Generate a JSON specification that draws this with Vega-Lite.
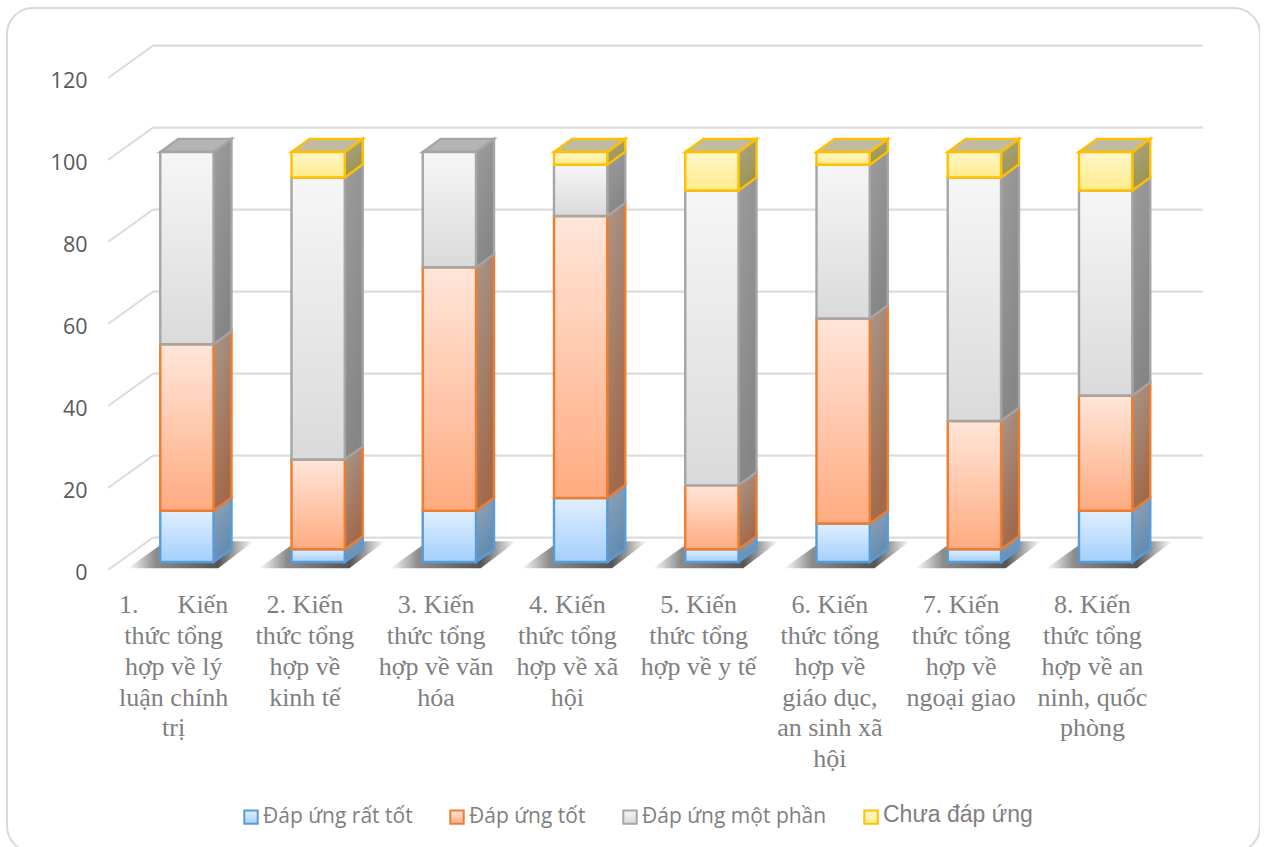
{
  "$schema": "https://vega.github.io/schema/vega-lite/v6.json",
  "width": 1253,
  "height": 844,
  "autosize": "none",
  "padding": {"left": 7, "top": 8, "right": 0, "bottom": 0},
  "background": "white",
  "view": {"stroke": "#d9d9d9", "strokeWidth": 2, "cornerRadius": 26},
  "resolve": {"axis": {"y": "independent"}, "legend": {"stroke": "independent"}},
  "datasets": {
    "levels": [{"level": 0}, {"level": 20}, {"level": 40}, {"level": 60}, {"level": 80}, {"level": 100}, {"level": 120}],
    "categories": [
      {"cat": 1, "label": "1.\u00a0\u00a0\u00a0\u00a0\u00a0\u00a0Kiến\nthức tổng\nhợp về lý\nluận chính\ntrị"},
      {"cat": 2, "label": "2. Kiến\nthức tổng\nhợp về\nkinh tế"},
      {"cat": 3, "label": "3. Kiến\nthức tổng\nhợp về văn\nhóa"},
      {"cat": 4, "label": "4. Kiến\nthức tổng\nhợp về xã\nhội"},
      {"cat": 5, "label": "5. Kiến\nthức tổng\nhợp về y tế"},
      {"cat": 6, "label": "6. Kiến\nthức tổng\nhợp về\ngiáo dục,\nan sinh xã\nhội"},
      {"cat": 7, "label": "7. Kiến\nthức tổng\nhợp về\nngoại giao"},
      {"cat": 8, "label": "8. Kiến\nthức tổng\nhợp về an\nninh, quốc\nphòng"}
    ],
    "responses": [
      {"cat": 1, "series": "Đáp ứng rất tốt", "value": 12.5},
      {"cat": 1, "series": "Đáp ứng tốt", "value": 40.6},
      {"cat": 1, "series": "Đáp ứng một phần", "value": 46.9},
      {"cat": 2, "series": "Đáp ứng rất tốt", "value": 3.1},
      {"cat": 2, "series": "Đáp ứng tốt", "value": 21.9},
      {"cat": 2, "series": "Đáp ứng một phần", "value": 68.8},
      {"cat": 2, "series": "Chưa đáp ứng", "value": 6.2},
      {"cat": 3, "series": "Đáp ứng rất tốt", "value": 12.5},
      {"cat": 3, "series": "Đáp ứng tốt", "value": 59.4},
      {"cat": 3, "series": "Đáp ứng một phần", "value": 28.1},
      {"cat": 4, "series": "Đáp ứng rất tốt", "value": 15.6},
      {"cat": 4, "series": "Đáp ứng tốt", "value": 68.8},
      {"cat": 4, "series": "Đáp ứng một phần", "value": 12.5},
      {"cat": 4, "series": "Chưa đáp ứng", "value": 3.1},
      {"cat": 5, "series": "Đáp ứng rất tốt", "value": 3.1},
      {"cat": 5, "series": "Đáp ứng tốt", "value": 15.6},
      {"cat": 5, "series": "Đáp ứng một phần", "value": 71.9},
      {"cat": 5, "series": "Chưa đáp ứng", "value": 9.4},
      {"cat": 6, "series": "Đáp ứng rất tốt", "value": 9.4},
      {"cat": 6, "series": "Đáp ứng tốt", "value": 50},
      {"cat": 6, "series": "Đáp ứng một phần", "value": 37.5},
      {"cat": 6, "series": "Chưa đáp ứng", "value": 3.1},
      {"cat": 7, "series": "Đáp ứng rất tốt", "value": 3.1},
      {"cat": 7, "series": "Đáp ứng tốt", "value": 31.3},
      {"cat": 7, "series": "Đáp ứng một phần", "value": 59.4},
      {"cat": 7, "series": "Chưa đáp ứng", "value": 6.2},
      {"cat": 8, "series": "Đáp ứng rất tốt", "value": 12.5},
      {"cat": 8, "series": "Đáp ứng tốt", "value": 28.1},
      {"cat": 8, "series": "Đáp ứng một phần", "value": 50},
      {"cat": 8, "series": "Chưa đáp ứng", "value": 9.4}
    ]
  },
  "layer": [
    {
      "data": {"name": "levels"},
      "transform": [{"calculate": "datum.level + 7.9", "as": "back"}],
      "mark": {"type": "rule", "stroke": "#dcdcdc", "strokeWidth": 2},
      "encoding": {
        "x": {"datum": 0, "type": "quantitative", "scale": {"domain": [0, 8], "range": [101, 1151], "nice": false, "zero": false}, "axis": null},
        "x2": {"datum": 0.343},
        "y": {"field": "level", "type": "quantitative", "scale": {"domain": [0, 120], "range": [562, 70], "nice": false, "zero": false}, "title": null,
          "axis": {"values": [0, 20, 40, 60, 80, 100, 120], "orient": "left", "offset": -80, "domain": false, "ticks": false, "grid": false, "tickSize": 0, "labelPadding": 0, "labelOffset": 3, "labelFont": "Open Sans", "labelFontSize": 21.5, "labelColor": "#595959", "title": null, "zindex": 1}},
        "y2": {"field": "back"}
      }
    },
    {
      "data": {"name": "levels"},
      "transform": [{"calculate": "datum.level + 7.9", "as": "back"}],
      "mark": {"type": "rule", "stroke": "#dcdcdc", "strokeWidth": 2.4},
      "encoding": {
        "x": {"datum": 0.343, "type": "quantitative", "scale": {"domain": [0, 8], "range": [101, 1151], "nice": false, "zero": false}, "axis": null},
        "x2": {"datum": 8.343},
        "y": {"field": "back", "type": "quantitative", "scale": {"domain": [0, 120], "range": [562, 70], "nice": false, "zero": false}, "axis": null}
      }
    },
    {
      "data": {"name": "categories"},
      "transform": [
        {"calculate": "[datum.cat - 1 + 0.15, datum.cat - 1 + 0.44]", "as": "left"},
        {"calculate": "[datum.cat - 1 + 0.84, datum.cat - 1 + 1.11]", "as": "right"},
        {"calculate": "[0.4, 7]", "as": "floor"},
        {"flatten": ["left", "right", "floor"]}
      ],
      "mark": {
        "type": "area",
        "orient": "horizontal",
        "fill": {"gradient": "linear", "x1": 0, "y1": 0.5, "x2": 1, "y2": 0.5, "stops": [
          {"offset": 0, "color": "#ffffff"},
          {"offset": 0.22, "color": "#8c8c8c"},
          {"offset": 0.72, "color": "#555555"},
          {"offset": 1, "color": "#ffffff"}
        ]}
      },
      "encoding": {
        "x": {"field": "left", "type": "quantitative", "scale": {"domain": [0, 8], "range": [101, 1151], "nice": false, "zero": false}, "axis": null},
        "x2": {"field": "right"},
        "y": {"field": "floor", "type": "quantitative", "scale": {"domain": [0, 120], "range": [562, 70], "nice": false, "zero": false}, "axis": null},
        "detail": {"field": "cat"}
      }
    },
    {
      "data": {"name": "responses"},
      "transform": [
        {"stack": "value", "groupby": ["cat"], "as": ["v0", "v1"]},
        {"calculate": "datum.cat - 1 + 0.804", "as": "xr"},
        {"calculate": "[datum.xr, datum.xr + 0.137]", "as": "px"},
        {"calculate": "[0, 3.2]", "as": "lift"},
        {"flatten": ["px", "lift"]},
        {"calculate": "datum.v0 + 1.95 + datum.lift", "as": "low"},
        {"calculate": "datum.v1 + 1.95 + datum.lift", "as": "high"}
      ],
      "mark": {"type": "area", "orient": "vertical", "strokeWidth": 2.4, "strokeJoin": "miter"},
      "encoding": {
        "x": {"field": "px", "type": "quantitative", "scale": {"domain": [0, 8], "range": [101, 1151], "nice": false, "zero": false}, "axis": null},
        "y": {"field": "low", "type": "quantitative", "stack": null, "scale": {"domain": [0, 120], "range": [562, 70], "nice": false, "zero": false}, "axis": null},
        "y2": {"field": "high"},
        "detail": {"field": "cat"},
        "fill": {
          "condition": [
            {"test": "datum.series === 'Đáp ứng rất tốt'", "value": {"gradient": "linear", "x1": 0, "y1": 0, "x2": 0.4, "y2": 1, "stops": [{"offset": 0, "color": "#93a3b3"}, {"offset": 1, "color": "#5f8bb2"}]}},
            {"test": "datum.series === 'Đáp ứng tốt'", "value": {"gradient": "linear", "x1": 0, "y1": 0, "x2": 0.4, "y2": 1, "stops": [{"offset": 0, "color": "#a8988c"}, {"offset": 1, "color": "#a2694a"}]}},
            {"test": "datum.series === 'Đáp ứng một phần'", "value": {"gradient": "linear", "x1": 0, "y1": 0, "x2": 0.4, "y2": 1, "stops": [{"offset": 0, "color": "#9c9c9c"}, {"offset": 1, "color": "#868686"}]}}
          ],
          "value": {"gradient": "linear", "x1": 0, "y1": 0, "x2": 0.4, "y2": 1, "stops": [{"offset": 0, "color": "#aaa584"}, {"offset": 1, "color": "#9c9452"}]}
        },
        "stroke": {
          "field": "series", "type": "nominal", "legend": null,
          "scale": {
            "domain": ["Đáp ứng rất tốt", "Đáp ứng tốt", "Đáp ứng một phần", "Chưa đáp ứng"],
            "range": ["#5b9bd5", "#ed7d31", "#a5a5a5", "#ffc000"]
          }
        }
      }
    },
    {
      "data": {"name": "responses"},
      "transform": [
        {"stack": "value", "groupby": ["cat"], "as": ["v0", "v1"]},
        {"joinaggregate": [{"op": "max", "field": "v1", "as": "top"}], "groupby": ["cat"]},
        {"filter": "datum.v1 === datum.top"},
        {"calculate": "[datum.cat - 1 + 0.398, datum.cat - 1 + 0.535]", "as": "left"},
        {"calculate": "[datum.cat - 1 + 0.804, datum.cat - 1 + 0.941]", "as": "right"},
        {"calculate": "[datum.v1 + 1.95, datum.v1 + 5.15]", "as": "level"},
        {"flatten": ["left", "right", "level"]}
      ],
      "mark": {"type": "area", "orient": "horizontal", "strokeWidth": 2.4, "strokeJoin": "miter"},
      "encoding": {
        "x": {"field": "left", "type": "quantitative", "stack": null, "scale": {"domain": [0, 8], "range": [101, 1151], "nice": false, "zero": false}, "axis": null},
        "x2": {"field": "right"},
        "y": {"field": "level", "type": "quantitative", "scale": {"domain": [0, 120], "range": [562, 70], "nice": false, "zero": false}, "axis": null},
        "detail": {"field": "cat"},
        "fill": {
          "condition": {"test": "datum.series === 'Đáp ứng một phần'", "value": "#b4b4b4"},
          "value": "#c1bca1"
        },
        "stroke": {
          "field": "series", "type": "nominal", "legend": null,
          "scale": {
            "domain": ["Đáp ứng rất tốt", "Đáp ứng tốt", "Đáp ứng một phần", "Chưa đáp ứng"],
            "range": ["#5b9bd5", "#ed7d31", "#a5a5a5", "#ffc000"]
          }
        }
      }
    },
    {
      "data": {"name": "responses"},
      "transform": [
        {"stack": "value", "groupby": ["cat"], "as": ["v0", "v1"]},
        {"calculate": "datum.cat - 1 + 0.398", "as": "xl"},
        {"calculate": "datum.cat - 1 + 0.804", "as": "xr"},
        {"calculate": "datum.v0 + 1.95", "as": "low"},
        {"calculate": "datum.v1 + 1.95", "as": "high"}
      ],
      "mark": {"type": "bar", "strokeWidth": 2.4, "strokeJoin": "miter"},
      "encoding": {
        "x": {"field": "xl", "type": "quantitative", "scale": {"domain": [0, 8], "range": [101, 1151], "nice": false, "zero": false}, "axis": null},
        "x2": {"field": "xr"},
        "y": {"field": "low", "type": "quantitative", "stack": null, "scale": {"domain": [0, 120], "range": [562, 70], "nice": false, "zero": false}, "axis": null},
        "y2": {"field": "high"},
        "fill": {
          "condition": [
            {"test": "datum.series === 'Đáp ứng rất tốt'", "value": {"gradient": "linear", "x1": 0, "y1": 0, "x2": 0, "y2": 1, "stops": [{"offset": 0, "color": "#e0efff"}, {"offset": 1, "color": "#a3cffb"}]}},
            {"test": "datum.series === 'Đáp ứng tốt'", "value": {"gradient": "linear", "x1": 0, "y1": 0, "x2": 0, "y2": 1, "stops": [{"offset": 0, "color": "#ffe6da"}, {"offset": 1, "color": "#ffab80"}]}},
            {"test": "datum.series === 'Đáp ứng một phần'", "value": {"gradient": "linear", "x1": 0, "y1": 0, "x2": 0, "y2": 1, "stops": [{"offset": 0, "color": "#f6f6f6"}, {"offset": 1, "color": "#dadada"}]}}
          ],
          "value": {"gradient": "linear", "x1": 0, "y1": 0, "x2": 0, "y2": 1, "stops": [{"offset": 0, "color": "#fff6cc"}, {"offset": 1, "color": "#ffec8a"}]}
        },
        "stroke": {
          "field": "series", "type": "nominal", "title": null,
          "scale": {
            "domain": ["Đáp ứng rất tốt", "Đáp ứng tốt", "Đáp ứng một phần", "Chưa đáp ứng"],
            "range": ["#5b9bd5", "#ed7d31", "#a5a5a5", "#ffc000"]
          },
          "legend": {
            "orient": "none", "legendX": 236, "legendY": 801, "direction": "horizontal", "columns": 4, "columnPadding": 33, "zindex": 1,
            "symbolType": "square", "symbolSize": 180, "symbolStrokeWidth": 2, "labelOffset": 4, "labelLimit": 300,
            "labelColor": "#7f7f7f", "labelFont": "Open Sans", "labelFontSize": 21,
            "encoding": {
              "symbols": {
                "fill": {
                  "condition": [
                    {"test": "datum.value === 'Đáp ứng rất tốt'", "value": {"gradient": "linear", "x1": 0, "y1": 0, "x2": 0, "y2": 1, "stops": [{"offset": 0, "color": "#e0efff"}, {"offset": 1, "color": "#a3cffb"}]}},
                    {"test": "datum.value === 'Đáp ứng tốt'", "value": {"gradient": "linear", "x1": 0, "y1": 0, "x2": 0, "y2": 1, "stops": [{"offset": 0, "color": "#ffe6da"}, {"offset": 1, "color": "#ffab80"}]}},
                    {"test": "datum.value === 'Đáp ứng một phần'", "value": {"gradient": "linear", "x1": 0, "y1": 0, "x2": 0, "y2": 1, "stops": [{"offset": 0, "color": "#f6f6f6"}, {"offset": 1, "color": "#dadada"}]}}
                  ],
                  "value": {"gradient": "linear", "x1": 0, "y1": 0, "x2": 0, "y2": 1, "stops": [{"offset": 0, "color": "#fff6cc"}, {"offset": 1, "color": "#ffec8a"}]}
                }
              },
              "labels": {
                "font": {"condition": {"test": "datum.value === 'Chưa đáp ứng'", "value": "Liberation Sans"}, "value": "Open Sans"},
                "fontSize": {"condition": {"test": "datum.value === 'Chưa đáp ứng'", "value": 23}, "value": 21},
                "dy": {"condition": {"test": "datum.value === 'Chưa đáp ứng'", "value": -2}, "value": 0}
              }
            }
          }
        }
      }
    },
    {
      "data": {"name": "categories"},
      "transform": [{"calculate": "datum.cat - 0.5", "as": "mid"}],
      "mark": {"type": "text", "align": "center", "baseline": "top", "font": "Liberation Serif", "fontSize": 26, "lineHeight": 30.8, "lineBreak": "\n", "color": "#7f7f7f"},
      "encoding": {
        "x": {"field": "mid", "type": "quantitative", "scale": {"domain": [0, 8], "range": [101, 1151], "nice": false, "zero": false}, "axis": null},
        "y": {"datum": -5.4, "type": "quantitative", "scale": {"domain": [0, 120], "range": [562, 70], "nice": false, "zero": false}, "axis": null},
        "text": {"field": "label", "type": "nominal"}
      }
    }
  ]
}
